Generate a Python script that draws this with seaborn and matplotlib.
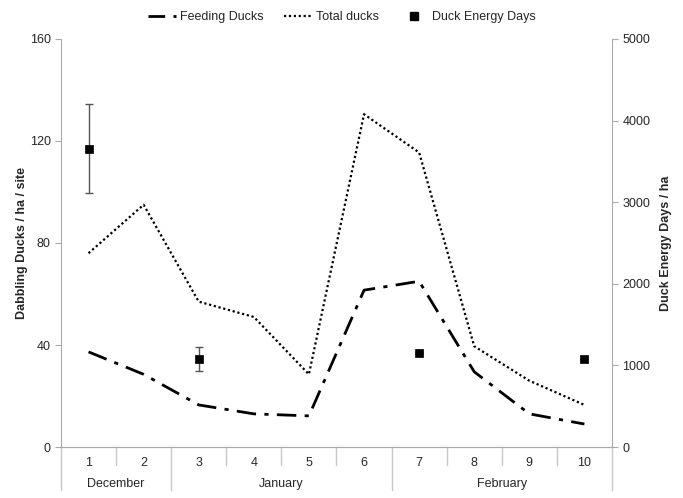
import seaborn as sns
import matplotlib.pyplot as plt
import matplotlib.transforms as mtransforms
from matplotlib.lines import Line2D
import pandas as pd

# values
weeks = [1, 2, 3, 4, 5, 6, 7, 8, 9, 10]
feeding_ducks = [37.3, 28.5, 16.5, 13, 12.2, 61.5, 65, 29.5, 13, 9]
total_ducks = [76, 95, 57, 51, 28.5, 130.5, 115.5, 39.5, 26, 16.5]
energy_weeks = [1, 3, 7, 10]
energy_days = [3650, 1080, 1150, 1080]
energy_err_low = [540, 150, 0, 0]
energy_err_high = [550, 150, 0, 0]
months = ['December', 'January', 'February']
month_bounds = [0.5, 2.5, 6.5, 10.5]

df = pd.DataFrame({'week': weeks, 'feeding': feeding_ducks, 'total': total_ducks})
edf = pd.DataFrame({'week': energy_weeks, 'energy': energy_days})

sns.set_style('white')
plt.rcParams['font.family'] = ['Liberation Sans', 'DejaVu Sans']
plt.rcParams['font.size'] = 9

fig = plt.figure(figsize=(6.83, 4.98), dpi=100)
ax = fig.add_axes([0.0893, 0.1024, 0.8067, 0.8193])
ax2 = ax.twinx()

sns.lineplot(data=df, x='week', y='feeding', ax=ax, color='black', linewidth=2,
             legend=False)
ax.lines[-1].set_dashes([7, 3, 1.5, 3])
sns.lineplot(data=df, x='week', y='total', ax=ax, color='black', linewidth=1.6,
             legend=False)
ax.lines[-1].set_dashes([1, 1.2])

ax2.errorbar(energy_weeks, energy_days, yerr=[energy_err_low, energy_err_high],
             fmt='none', ecolor='#555555', elinewidth=1, capsize=3)
sns.scatterplot(data=edf, x='week', y='energy', ax=ax2, marker='s', s=40,
                color='black', edgecolor='black', zorder=5, legend=False)

ax.set_xlim(0.5, 10.5)
ax.set_ylim(0, 160)
ax.set_yticks([0, 40, 80, 120, 160])
ax2.set_ylim(0, 5000)
ax2.set_yticks([0, 1000, 2000, 3000, 4000, 5000])
ax.set_xticks(weeks)
ax.set_xticklabels([str(w) for w in weeks])
ax.tick_params(axis='x', length=0, pad=7)
ax.tick_params(axis='y', length=4, color='#aaaaaa', left=True, direction='out')
ax2.tick_params(axis='y', length=4, color='#aaaaaa', right=True, direction='out')
ax.set_xlabel('')
ax.set_ylabel('Dabbling Ducks / ha / site', fontweight='bold', labelpad=1)
ax2.set_ylabel('Duck Energy Days / ha', fontweight='bold', labelpad=7)

for a in (ax, ax2):
    for side in ('left', 'right', 'bottom'):
        a.spines[side].set_color('#aaaaaa')
    a.spines['top'].set_visible(False)
ax2.spines['left'].set_visible(False)
ax.spines['right'].set_visible(False)

# two-level category axis
trans = mtransforms.blended_transform_factory(ax.transData, ax.transAxes)
for x in range(1, 10):
    xb = x + 0.5
    low = -0.105 if xb in month_bounds else -0.045
    ax.plot([xb, xb], [0, low], transform=trans, color='#c8c8c8', lw=1, clip_on=False)
for xb in (0.5, 10.5):
    ax.plot([xb, xb], [0, -0.105], transform=trans, color='#c8c8c8', lw=1, clip_on=False)
for i, m in enumerate(months):
    center = (month_bounds[i] + month_bounds[i + 1]) / 2
    ax.text(center, -0.091, m, transform=trans, ha='center', va='center')

handles = [Line2D([], [], color='black', lw=2, dashes=[6, 3, 1.5, 3]),
           Line2D([], [], color='black', lw=1.6, dashes=[1, 1.2]),
           Line2D([], [], color='black', lw=0, marker='s', markersize=6)]
fig.legend(handles, ['Feeding Ducks', 'Total ducks', 'Duck Energy Days'],
           loc='upper center', bbox_to_anchor=(0.5, 1.0), ncol=3, frameon=False,
           handlelength=2.3, columnspacing=1.6, handletextpad=0.3)

fig.savefig('out.png', dpi=100)
